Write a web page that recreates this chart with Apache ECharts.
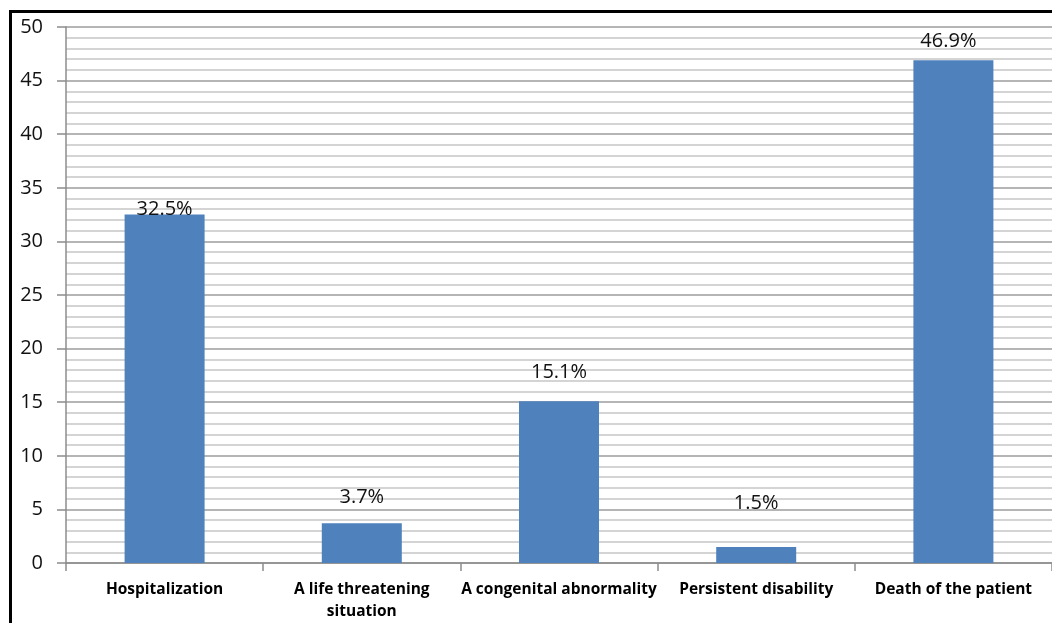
<!DOCTYPE html>
<html>
<head>
<meta charset="utf-8">
<script src="https://cdn.jsdelivr.net/npm/echarts@6/dist/echarts.min.js"></script>
<style>
  html, body { margin: 0; padding: 0; background: #fff; overflow: hidden; }
  #chart { width: 1052px; height: 623px; }
</style>
</head>
<body>
<div id="chart"></div>
<script>
// Serious adverse outcomes, share of reports (%)
const categories = [
  'Hospitalization',
  'A life threatening\nsituation',
  'A congenital abnormality',
  'Persistent disability',
  'Death of the patient'
];
const values = [32.5, 3.7, 15.1, 1.5, 46.9];
const yTicks = [0, 5, 10, 15, 20, 25, 30, 35, 40, 45, 50];

// hand-placed value label nudges (px), per bar
const labelNudge = [[0, 10], [0, -11], [0, -14], [0, -29], [-5, -4]];

const chart = echarts.init(document.getElementById('chart'));
const FONT = '"Open Sans", "Noto Sans", sans-serif';

chart.setOption({
  animation: false,
  backgroundColor: '#fff',
  grid: { left: 66, top: 27, width: 990, height: 542, containLabel: false },
  graphic: [{
    // frame: left and top edges
    type: 'polyline',
    shape: { points: [[10.5, 700], [10.5, 11.5], [1100, 11.5]] },
    style: { fill: 'none', stroke: '#000', lineWidth: 3 },
    silent: true
  }],
  xAxis: {
    type: 'category',
    data: categories,
    boundaryGap: true,
    axisLine: { lineStyle: { color: '#8c8c8c', width: 1.5 } },
    axisTick: { show: true, length: 8, lineStyle: { color: '#8c8c8c', width: 1.5 } },
    axisLabel: {
      interval: 0,
      margin: 16,
      color: '#000',
      fontFamily: FONT,
      fontWeight: 'bold',
      fontSize: 15.5,
      lineHeight: 22
    },
    splitLine: { show: false }
  },
  yAxis: {
    type: 'value',
    min: yTicks[0],
    max: yTicks[yTicks.length - 1],
    interval: 5,
    axisLine: { show: true, lineStyle: { color: '#8c8c8c', width: 1.5 } },
    axisTick: { show: true, length: 9, lineStyle: { color: '#8c8c8c', width: 1.5 } },
    axisLabel: {
      margin: 23,
      color: '#111',
      fontFamily: FONT,
      fontSize: 20
    },
    splitLine: { show: true, lineStyle: { color: '#9c9c9c', width: 1.5 } },
    minorTick: { show: false, splitNumber: 5 },
    minorSplitLine: { show: true, lineStyle: { color: '#c6c6c6', width: 1.5 } }
  },
  series: [{
    type: 'bar',
    barWidth: 80,
    itemStyle: { color: '#4f81bd' },
    data: values.map((v, i) => ({
      value: v,
      label: { offset: labelNudge[i] }
    })),
    label: {
      show: true,
      position: 'top',
      color: '#111',
      fontFamily: FONT,
      fontSize: 20,
      formatter: p => p.value.toFixed(1) + '%'
    }
  }]
});
</script>
</body>
</html>
